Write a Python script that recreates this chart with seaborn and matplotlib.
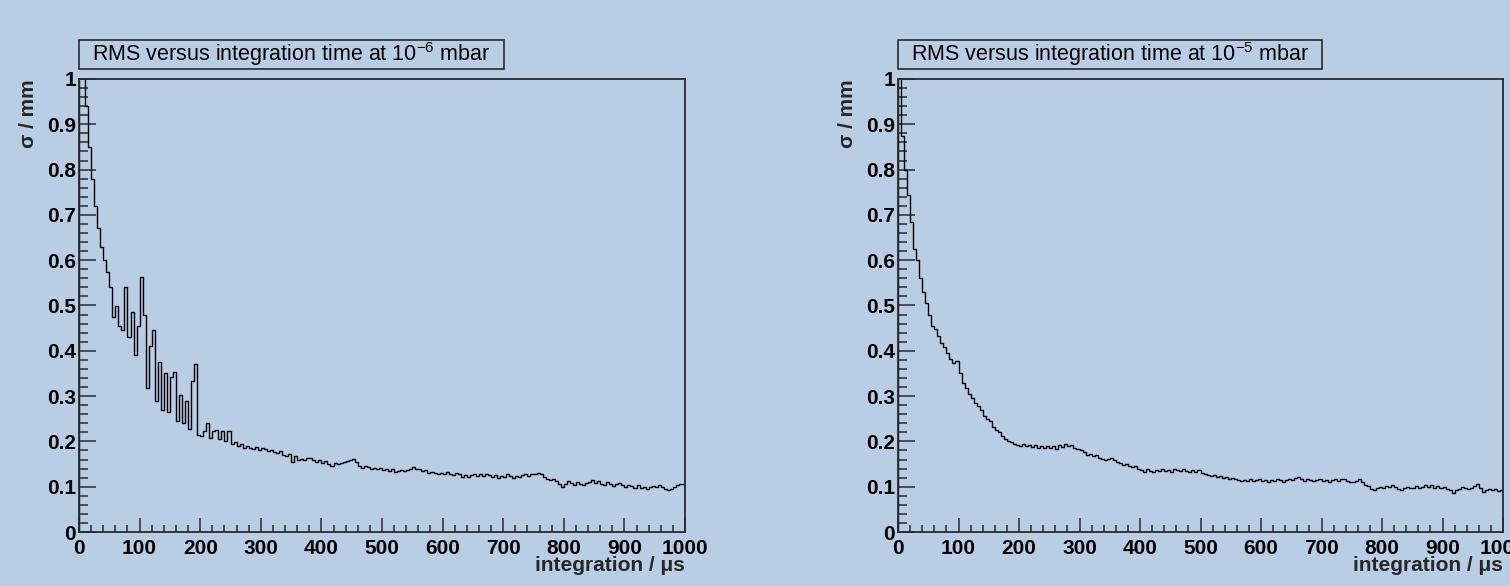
import numpy as np
import pandas as pd
import matplotlib
matplotlib.use("Agg")
import matplotlib.pyplot as plt
import seaborn as sns
from matplotlib.ticker import MultipleLocator, FuncFormatter
from matplotlib.patches import Rectangle

# ---------------- data ----------------
titles = ["RMS versus integration time at 10$^{\\mathregular{-6}}$ mbar",
          "RMS versus integration time at 10$^{\\mathregular{-5}}$ mbar"]
x_label = "integration / \u03bcs"
y_label = "\u03c3 / mm"
bin_edges_us = list(range(0, 1001, 5))   # 200 bins of 5 us

rms_1e6 = [
    1.25, 1.08, 0.94, 0.85, 0.78, 0.72, 0.67, 0.63, 0.60, 0.575,
    0.540, 0.475, 0.500, 0.455, 0.445, 0.540, 0.430, 0.485, 0.390, 0.455,
    0.563, 0.478, 0.318, 0.410, 0.446, 0.290, 0.375, 0.270, 0.352, 0.265,
    0.343, 0.354, 0.245, 0.302, 0.240, 0.290, 0.228, 0.334, 0.371, 0.215,
    0.212, 0.222, 0.240, 0.208, 0.222, 0.226, 0.205, 0.222, 0.200, 0.224,
    0.195, 0.198, 0.190, 0.194, 0.186, 0.190, 0.185, 0.183, 0.188, 0.180,
    0.186, 0.184, 0.178, 0.182, 0.177, 0.175, 0.178, 0.170, 0.168, 0.172,
    0.155, 0.168, 0.160, 0.162, 0.158, 0.164, 0.163, 0.160, 0.155, 0.158,
    0.152, 0.156, 0.150, 0.145, 0.152, 0.150, 0.153, 0.155, 0.156, 0.160,
    0.162, 0.155, 0.145, 0.142, 0.145, 0.143, 0.140, 0.142, 0.138, 0.141,
    0.136, 0.140, 0.135, 0.138, 0.132, 0.135, 0.137, 0.134, 0.136, 0.140,
    0.143, 0.138, 0.140, 0.134, 0.136, 0.130, 0.133, 0.131, 0.128, 0.130,
    0.127, 0.132, 0.129, 0.125, 0.130, 0.127, 0.122, 0.125, 0.122, 0.126,
    0.128, 0.123, 0.127, 0.124, 0.129, 0.125, 0.122, 0.126, 0.120, 0.124,
    0.121, 0.127, 0.123, 0.119, 0.124, 0.121, 0.126, 0.128, 0.124, 0.127,
    0.129, 0.131, 0.127, 0.122, 0.118, 0.115, 0.118, 0.112, 0.105, 0.100,
    0.106, 0.112, 0.108, 0.104, 0.110, 0.106, 0.103, 0.108, 0.111, 0.115,
    0.109, 0.112, 0.106, 0.104, 0.110, 0.107, 0.102, 0.105, 0.108, 0.104,
    0.100, 0.104, 0.101, 0.098, 0.103, 0.097, 0.100, 0.096, 0.099, 0.102,
    0.100, 0.104, 0.099, 0.096, 0.093, 0.095, 0.100, 0.103, 0.105, 0.106,
]

rms_1e5 = [
    1.20, 0.875, 0.80, 0.745, 0.685, 0.625, 0.600, 0.560, 0.530, 0.505,
    0.478, 0.455, 0.448, 0.432, 0.418, 0.408, 0.395, 0.382, 0.372, 0.378,
    0.350, 0.330, 0.318, 0.305, 0.296, 0.285, 0.278, 0.270, 0.255, 0.250,
    0.244, 0.232, 0.226, 0.220, 0.212, 0.206, 0.200, 0.198, 0.195, 0.193,
    0.190, 0.194, 0.189, 0.191, 0.188, 0.192, 0.186, 0.189, 0.185, 0.190,
    0.186, 0.189, 0.184, 0.192, 0.188, 0.195, 0.189, 0.193, 0.186, 0.184,
    0.180, 0.176, 0.170, 0.172, 0.168, 0.170, 0.164, 0.162, 0.159, 0.162,
    0.164, 0.158, 0.155, 0.152, 0.148, 0.150, 0.146, 0.143, 0.145, 0.140,
    0.136, 0.133, 0.138, 0.135, 0.132, 0.136, 0.134, 0.138, 0.135, 0.137,
    0.133, 0.140, 0.136, 0.134, 0.138, 0.135, 0.132, 0.136, 0.133, 0.137,
    0.131, 0.128, 0.126, 0.124, 0.126, 0.122, 0.124, 0.120, 0.122, 0.118,
    0.120, 0.116, 0.114, 0.112, 0.115, 0.113, 0.116, 0.112, 0.114, 0.117,
    0.113, 0.115, 0.111, 0.114, 0.112, 0.116, 0.114, 0.111, 0.115, 0.118,
    0.114, 0.120, 0.122, 0.117, 0.113, 0.118, 0.115, 0.112, 0.114, 0.116,
    0.113, 0.115, 0.111, 0.114, 0.117, 0.112, 0.116, 0.118, 0.113, 0.110,
    0.111, 0.113, 0.116, 0.110, 0.104, 0.101, 0.096, 0.093, 0.098, 0.100,
    0.098, 0.102, 0.100, 0.104, 0.099, 0.096, 0.093, 0.097, 0.099, 0.097,
    0.098, 0.101, 0.097, 0.099, 0.103, 0.100, 0.104, 0.098, 0.101, 0.097,
    0.099, 0.095, 0.092, 0.086, 0.092, 0.095, 0.099, 0.097, 0.094, 0.098,
    0.101, 0.107, 0.098, 0.089, 0.093, 0.095, 0.092, 0.094, 0.091, 0.093,
]
series = [rms_1e6, rms_1e5]

# ---------------- style ----------------
BG = "#b9cde5"
FRAME = "#2a2a2a"
sns.set_style("ticks")
plt.rcParams["font.family"] = ["Liberation Sans", "DejaVu Sans"]
plt.rcParams["mathtext.fontset"] = "custom"
plt.rcParams["mathtext.rm"] = "Liberation Sans"
plt.rcParams["mathtext.it"] = "Liberation Sans:italic"
plt.rcParams["mathtext.bf"] = "Liberation Sans:bold"

fig = plt.figure(figsize=(15.10, 5.86), dpi=100, facecolor=BG)

W, H = 1510, 586
ax_lefts = [79, 898]
ax_width_px = [606, 605]
ax_top, ax_bottom = 79, 532

for k in range(2):
    left = ax_lefts[k] / W
    bottom = 1 - ax_bottom / H
    width = ax_width_px[k] / W
    height = (ax_bottom - ax_top) / H
    ax = fig.add_axes([left, bottom, width, height])
    ax.set_facecolor(BG)

    vals = series[k]
    xs = [bin_edges_us[0]] + bin_edges_us
    ys = [0.0] + list(vals) + [0.0]
    df = pd.DataFrame({"t": xs, "rms": ys})
    sns.lineplot(data=df, x="t", y="rms", ax=ax, estimator=None, sort=False,
                 drawstyle="steps-post", color="black", linewidth=1.0)

    ax.set_xlim(0, 1000)
    ax.set_ylim(0, 1)
    for sp in ax.spines.values():
        sp.set_visible(True)
        sp.set_color(FRAME)
        sp.set_linewidth(1.3)

    ax.xaxis.set_major_locator(MultipleLocator(100))
    ax.xaxis.set_minor_locator(MultipleLocator(20))
    ax.yaxis.set_major_locator(MultipleLocator(0.1))
    ax.yaxis.set_minor_locator(MultipleLocator(0.02))
    ax.yaxis.set_major_formatter(FuncFormatter(lambda v, p: "%g" % round(v, 2)))
    ax.xaxis.set_major_formatter(FuncFormatter(lambda v, p: "%d" % round(v)))

    ax.tick_params(axis="both", which="both", direction="in", colors=FRAME,
                   top=False, right=False, width=1.1)
    ax.tick_params(axis="y", which="major", length=12.5, pad=2, labelsize=15)
    ax.tick_params(axis="y", which="minor", length=6.5)
    ax.tick_params(axis="x", which="major", length=10, pad=5, labelsize=15)
    ax.tick_params(axis="x", which="minor", length=5)
    for lab in ax.get_xticklabels() + ax.get_yticklabels():
        lab.set_fontweight("bold")
        lab.set_color("black")

    ax.set_xlabel(x_label, fontsize=15, fontweight="bold", loc="right")
    ax.xaxis.set_label_coords(1.0, -0.053)
    ax.xaxis.label.set_verticalalignment("top")
    ax.set_ylabel(y_label, fontsize=15, fontweight="bold", loc="top")
    ax.yaxis.set_label_coords(-0.068, 1.0)

    # title box (ROOT style)
    box_w = (504 - 79) / 606
    box_y0 = (ax_bottom - 69) / (ax_bottom - ax_top)
    box_h = (69 - 40) / (ax_bottom - ax_top)
    ax.add_patch(Rectangle((0, box_y0), box_w, box_h, transform=ax.transAxes,
                           facecolor=BG, edgecolor=FRAME, linewidth=1.2,
                           clip_on=False))
    ax.text(box_w / 2, box_y0 + box_h / 2, titles[k], transform=ax.transAxes,
            ha="center", va="center", fontsize=15.5, color="black")

fig.savefig("out.png", dpi=100, facecolor=BG)
